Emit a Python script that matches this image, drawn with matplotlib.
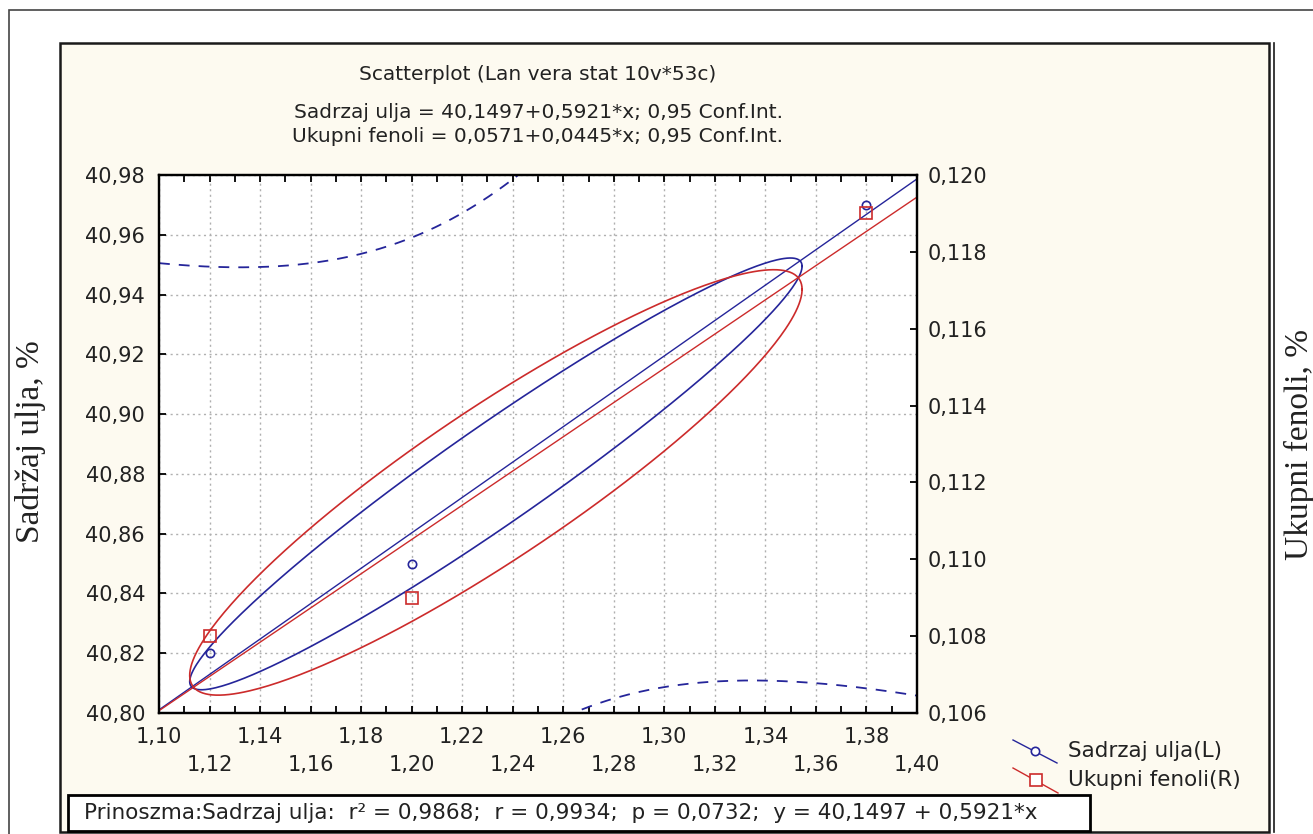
import numpy as np
import matplotlib
matplotlib.use("Agg")
import matplotlib.pyplot as plt
from matplotlib.patches import Rectangle
from matplotlib.lines import Line2D
from matplotlib.ticker import FuncFormatter, MultipleLocator

# data
x_vals = [1.12, 1.20, 1.38]
oil = [40.82, 40.85, 40.97]          # Sadrzaj ulja (left axis)
phenols = [0.108, 0.109, 0.119]      # Ukupni fenoli (right axis)

title_lines = ["Scatterplot (Lan vera stat 10v*53c)",
               "Sadrzaj ulja = 40,1497+0,5921*x; 0,95 Conf.Int.",
               "Ukupni fenoli = 0,0571+0,0445*x; 0,95 Conf.Int."]
legend_labels = ["Sadrzaj ulja(L)", "Ukupni fenoli(R)"]
stats_text = "Prinoszma:Sadrzaj ulja:  r² = 0,9868;  r = 0,9934;  p = 0,0732;  y = 40,1497 + 0,5921*x"

BLUE = "#25259a"
RED = "#cc2b2b"
T95_DF1 = 12.706  # t(0.975, n-2) for n = 3

plt.rcParams['font.family'] = ['DejaVu Sans']

W, H = 1313, 834
fig = plt.figure(figsize=(W / 100, H / 100), dpi=100)


def fx(px):
    return px / W


def fy(py):
    return 1 - py / H


# outer frame and cream panel
fig.add_artist(Rectangle((fx(9), -0.02), 1.1, fy(10) + 0.02, fill=False,
                         edgecolor="#444444", lw=1.2, transform=fig.transFigure, zorder=-2))
fig.add_artist(Rectangle((fx(60), fy(832)), fx(1269) - fx(60), fy(43) - fy(832),
                         facecolor="#fdfaf0", edgecolor="#1a1a1a", lw=1.8,
                         transform=fig.transFigure, zorder=-1))
fig.add_artist(Line2D([fx(1274), fx(1274)], [fy(832), fy(43)], color="#1a1a1a",
                      lw=1.2, transform=fig.transFigure, zorder=-1))

ax = fig.add_axes([fx(159), fy(713), fx(917) - fx(159), fy(175) - fy(713)])
ax.set_facecolor("white")
ax2 = ax.twinx()

ax.set_xlim(1.10, 1.40)
ax.set_ylim(40.80, 40.98)
ax2.set_ylim(0.106, 0.120)

x = np.array(x_vals)
xs = np.linspace(1.10, 1.40, 300)


def regression(xv, yv):
    b, a = np.polyfit(xv, yv, 1)
    n = len(xv)
    res = yv - (a + b * xv)
    s = np.sqrt(np.sum(res ** 2) / (n - 2))
    sxx = np.sum((xv - xv.mean()) ** 2)
    fit = a + b * xs
    half = T95_DF1 * s * np.sqrt(1 / n + (xs - xv.mean()) ** 2 / sxx)
    return fit, fit - half, fit + half


def ellipse(xv, yv, k=0.91, shrink=0.69):
    r = np.corrcoef(xv, yv)[0, 1]
    rho = np.tanh(shrink * np.arctanh(r))
    t = np.linspace(0, 2 * np.pi, 400)
    ex = xv.mean() + k * xv.std(ddof=1) * np.cos(t)
    ey = yv.mean() + k * yv.std(ddof=1) * (rho * np.cos(t) + np.sqrt(1 - rho ** 2) * np.sin(t))
    return ex, ey


for axis, yv, col, mk, ms in [(ax, np.array(oil), BLUE, 'o', 6),
                              (ax2, np.array(phenols), RED, 's', 8)]:
    fit, lo, hi = regression(x, yv)
    axis.plot(xs, fit, color=col, lw=1.0)
    axis.plot(xs, lo, color=col, lw=1.3, dashes=(6, 5))
    axis.plot(xs, hi, color=col, lw=1.3, dashes=(6, 5))
    ex, ey = ellipse(x, yv)
    axis.plot(ex, ey, color=col, lw=1.2)
    axis.plot(x, yv, mk, mfc='none', mec=col, ms=ms, mew=1.2)

# grid and ticks
ax.grid(True, which='major', color="#b0b0b0", lw=1.0, linestyle=(0, (1.5, 2.5)))
ax.set_axisbelow(True)
ax.yaxis.set_major_locator(MultipleLocator(0.02))
ax2.yaxis.set_major_locator(MultipleLocator(0.002))
ax.xaxis.set_minor_locator(MultipleLocator(0.01))

xt = np.round(np.arange(1.10, 1.4001, 0.02), 2)
ax.set_xticks(xt)
ax.set_xticklabels([f"{v:.2f}".replace('.', ',') for v in xt])
ax.yaxis.set_major_formatter(FuncFormatter(lambda v, p: f"{v:.2f}".replace('.', ',')))
ax2.yaxis.set_major_formatter(FuncFormatter(lambda v, p: f"{v:.3f}".replace('.', ',')))

ax.tick_params(axis='x', which='both', direction='in', top=True, length=5, width=1.3,
               labelsize=15, labelcolor="#222222")
ax.tick_params(axis='y', which='both', direction='in', right=False, length=5, width=1.3,
               labelsize=15, labelcolor="#222222", pad=10)
ax2.tick_params(axis='y', direction='in', length=5, width=1.3, labelsize=15,
                labelcolor="#222222", pad=8)

for sp in list(ax.spines.values()) + list(ax2.spines.values()):
    sp.set_linewidth(1.6)
    sp.set_color("black")

for i, tk in enumerate(ax.xaxis.get_major_ticks()):
    tk.set_pad(10 if i % 2 == 0 else 30)

# titles
for txt, py in zip(title_lines, [75, 112, 137]):
    fig.text(fx(538), fy(py), txt, ha='center', va='center', fontsize=14.5, color="#222222")

# axis titles
fig.text(fx(30), fy(442), "Sadržaj ulja, %", rotation=90, ha='center', va='center',
         fontsize=24, family=['Liberation Serif', 'DejaVu Serif'], color="#222222")
fig.text(fx(1299), fy(445), "Ukupni fenoli, %", rotation=90, ha='center', va='center',
         fontsize=24, family=['Liberation Serif', 'DejaVu Serif'], color="#222222")

# legend drawn like the Statistica one (slanted line with marker)
for (x0, y0, x1, y1, mx, my), col, mk, ms, lab, ty in [
        ((1013, 740, 1057, 763, 1035, 751), BLUE, 'o', 6, legend_labels[0], 751),
        ((1013, 768, 1058, 793, 1036, 780), RED, 's', 8, legend_labels[1], 780)]:
    fig.add_artist(Line2D([fx(x0), fx(x1)], [fy(y0), fy(y1)], color=col, lw=1.0,
                          transform=fig.transFigure))
    fig.add_artist(Line2D([fx(mx)], [fy(my)], marker=mk, mfc='white', mec=col, ms=ms,
                          mew=1.2, transform=fig.transFigure))
    fig.text(fx(1068), fy(ty), lab, ha='left', va='center', fontsize=15.5, color="#222222")

# statistics box
fig.add_artist(Rectangle((fx(68), fy(831)), fx(1090) - fx(68), fy(795) - fy(831),
                         facecolor='white', edgecolor='black', lw=2.0,
                         transform=fig.transFigure))
fig.text(fx(84), fy(813), stats_text, ha='left', va='center', fontsize=15.5, color="#222222")

fig.savefig("out.png", dpi=100)
